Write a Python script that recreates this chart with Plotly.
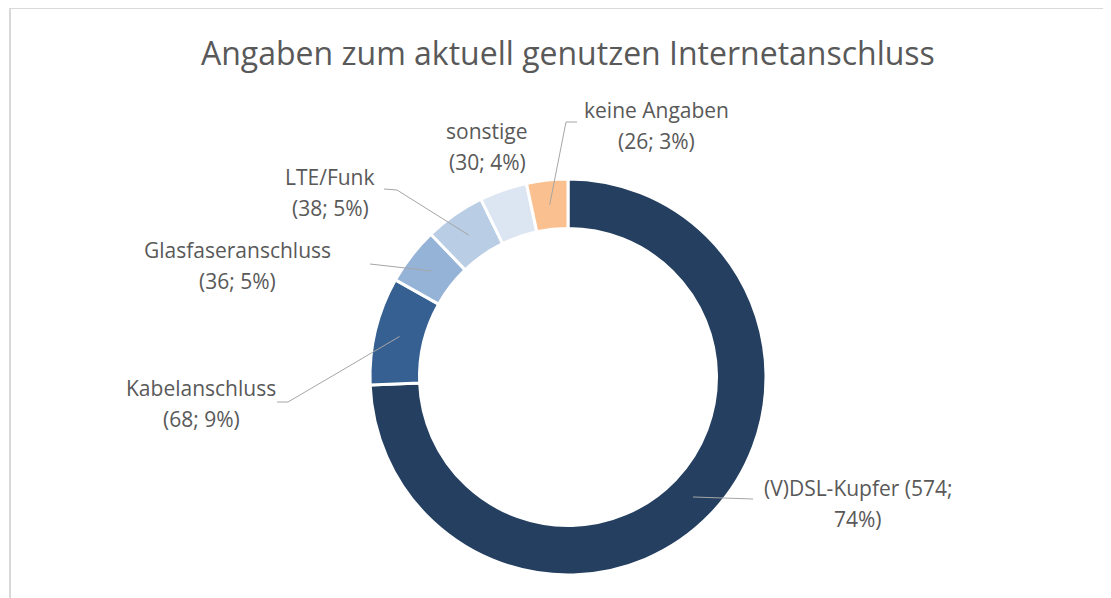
import math
import plotly.graph_objects as go

categories = ["(V)DSL-Kupfer", "Kabelanschluss", "Glasfaseranschluss", "LTE/Funk", "sonstige", "keine Angaben"]
values = [574, 68, 36, 38, 30, 26]
percents = ["74%", "9%", "5%", "5%", "4%", "3%"]
colors = ["#243F60", "#366092", "#95B3D7", "#B9CDE5", "#DCE6F2", "#FAC090"]
title_text = "Angaben zum aktuell genutzen Internetanschluss"

W, H = 1111, 598
OFF = 8  # page body margin
PW, PH = W - OFF, H - OFF
CX, CY, R_OUT, HOLE = 568, 377, 198, 0.75

def px(x):
    return (x - OFF) / PW

def py(y):
    return 1 - (y - OFF) / PH

fig = go.Figure()
fig.add_trace(go.Pie(
    labels=categories, values=values, hole=HOLE, sort=False, direction="clockwise",
    rotation=0, textinfo="none", hoverinfo="label+value+percent",
    marker=dict(colors=colors, line=dict(color="white", width=3)),
    domain=dict(x=[px(CX - R_OUT), px(CX + R_OUT)], y=[py(CY + R_OUT), py(CY - R_OUT)]),
    showlegend=False,
))

# slice midpoints (mid-ring) computed from data
total = sum(values)
mid_r = R_OUT * (1 + HOLE) / 2
mids = []
cum = 0
for v in values:
    a = 2 * math.pi * (cum + v / 2) / total
    mids.append((CX + mid_r * math.sin(a), CY - mid_r * math.cos(a)))
    cum += v

# label layout: (line1, line2, center x, y1, y2)
label_lines = [
    (f"{categories[0]} ({values[0]};", f"{percents[0]})", 858, 488, 519),
    (categories[1], f"({values[1]}; {percents[1]})", 201, 388, 419),
    (categories[2], f"({values[2]}; {percents[2]})", 237, 250, 281),
    (categories[3], f"({values[3]}; {percents[3]})", 330, 177, 208),
    (categories[4], f"({values[4]}; {percents[4]})", 487, 131, 162),
    (categories[5], f"({values[5]}; {percents[5]})", 656, 110, 141),
]
font_lbl = dict(family="Open Sans, sans-serif", size=21, color="#595959")
annotations = []
for l1, l2, x, y1, y2 in label_lines:
    for t, yy in ((l1, y1), (l2, y2)):
        annotations.append(dict(text=t, x=px(x), y=py(yy), xref="paper", yref="paper",
                                showarrow=False, xanchor="center", yanchor="middle", font=font_lbl))

annotations.append(dict(text=title_text, x=px(568), y=py(52), xref="paper", yref="paper",
                        showarrow=False, xanchor="center", yanchor="middle",
                        font=dict(family="Open Sans, sans-serif", size=32, color="#595959")))

# leader line start/elbow points (label side)
leaders = {
    0: [(753, 499)],
    1: [(277, 402), (288, 402)],
    2: [(370, 264)],
    3: [(384, 189), (397, 190)],
    5: [(577, 122), (566, 122)],
}
shapes = []
for i, pts in leaders.items():
    path_pts = pts + [mids[i]]
    d = "M " + " L ".join(f"{px(x)},{py(y)}" for x, y in path_pts)
    shapes.append(dict(type="path", path=d, xref="paper", yref="paper",
                       line=dict(color="#A6A6A6", width=1)))

# chart frame (left and top edges visible)
shapes.append(dict(type="rect", xref="paper", yref="paper", x0=px(10), y0=-0.05, x1=1.05, y1=py(8),
                   line=dict(color="#D9D9D9", width=2), layer="below"))

fig.update_layout(
    width=PW, height=PH, margin=dict(l=0, r=0, t=0, b=0),
    paper_bgcolor="white", plot_bgcolor="white",
    annotations=annotations, shapes=shapes,
)
fig.write_html("out.html")
